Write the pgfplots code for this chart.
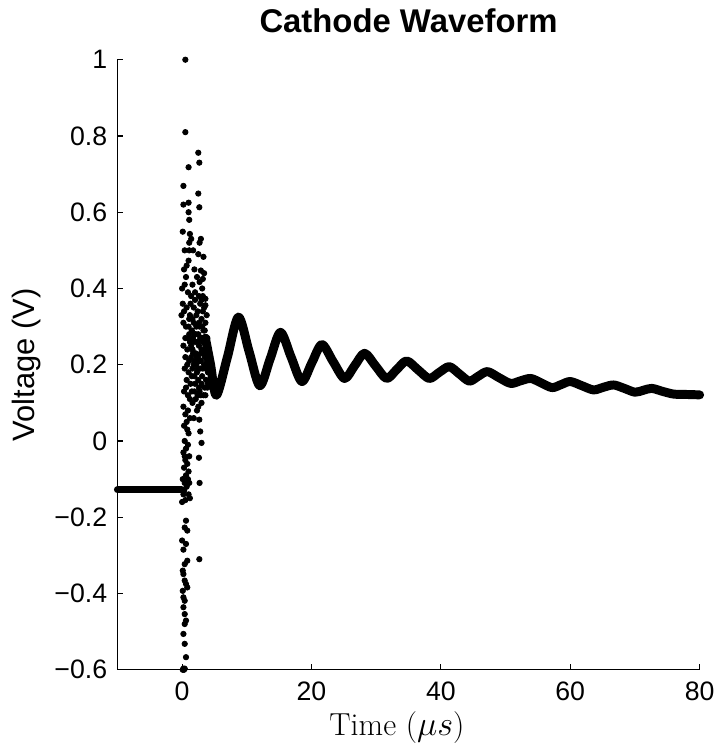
\documentclass[border=0pt]{standalone}
\usepackage{fontspec}
\setsansfont{Liberation Sans}
\usepackage{pgfplots}
\pgfplotsset{compat=1.18}

\begin{document}
\begin{tikzpicture}
\begin{axis}[
    scale only axis,
    width=292.5bp, height=306.5bp,
    xmin=-10, xmax=80,
    ymin=-0.6, ymax=1,
    axis x line*=bottom, axis y line*=left,
    axis line style={-, line width=0.6bp, black},
    tick align=inside,
    major tick length=3bp,
    tick style={line width=0.6bp, black},
    xtick={0,20,40,60,80},
    xticklabels={0,20,40,60,80},
    ytick={-0.6,-0.4,-0.2,0,0.2,0.4,0.6,0.8,1},
    yticklabels={−0.6,−0.4,−0.2,0,0.2,0.4,0.6,0.8,1},
    ticklabel style={font=\sffamily\fontsize{13.4bp}{15bp}\selectfont},
    x tick label style={anchor=north, inner sep=0pt, yshift=-6bp},
    y tick label style={anchor=east, inner sep=0pt, xshift=-5bp},
    title={Cathode Waveform},
    title style={font=\sffamily\bfseries\fontsize{16.5bp}{19bp}\selectfont,
        at={(axis description cs:0.5,1)}, anchor=center, yshift=13.5bp},
    xlabel={Time ($\mu s$)},
    xlabel style={font=\fontsize{16bp}{19bp}\selectfont,
        at={(axis description cs:0.48,-0.0946)}, anchor=center},
    ylabel={Voltage (V)},
    ylabel style={font=\sffamily\fontsize{15.5bp}{18bp}\selectfont,
        at={(axis description cs:-0.1556,0.5)}, anchor=center},
    clip=false,
]
% flat level before the trigger
\addplot[black, line width=3.5bp, line cap=round] coordinates {
    (-10,-0.128) (-0.1,-0.128)
};
% ringing after the trigger
\addplot[black, line width=4.5bp, smooth, line cap=round, line join=round] coordinates {
    (3.6,0.27) (4.4,0.2) (5.3,0.12) (7.0,0.22) (8.7,0.325) (10.35,0.235)
    (12.0,0.145) (13.6,0.215) (15.2,0.285) (16.85,0.22) (18.5,0.156)
    (20.05,0.205) (21.6,0.253) (23.35,0.208) (25.1,0.164) (26.65,0.197)
    (28.2,0.23) (29.9,0.197) (31.6,0.164) (33.15,0.187) (34.7,0.21)
    (36.45,0.187) (38.2,0.164) (39.75,0.18) (41.3,0.195) (42.85,0.176)
    (44.4,0.157) (45.8,0.17) (47.2,0.182) (49.0,0.166) (50.8,0.151)
    (52.35,0.158) (53.9,0.164) (55.55,0.152) (57.2,0.14) (58.6,0.148)
    (60.0,0.156) (61.8,0.145) (63.6,0.134) (65.15,0.141) (66.7,0.147)
    (68.35,0.138) (70.0,0.128) (71.3,0.133) (72.6,0.138) (74.3,0.13)
    (76,0.123) (78,0.122) (80,0.121)
};
% scattered samples around the trigger
\addplot[only marks, mark=*, mark size=1.35bp, black] coordinates {
    (0.5,1.0) (0.5,0.81) (2.5,0.756) (2.66,0.73) (1.0,0.718) (0.2,0.669)
    (2.5,0.649) (0.2,0.62) (1.0,0.625) (1.0,0.60) (2.66,0.613) (1.1,0.58)
    (0.1,0.549) (1.2,0.543) (1.4,0.53) (1.1,0.52) (2.9,0.53) (2.7,0.52)
    (0.4,0.50) (1.1,0.50) (2.5,0.49) (3.3,0.483) (1.0,0.473) (0.7,0.46)
    (2.9,0.447) (3.2,0.425) (2.7,0.417) (0.0,0.40) (0.4,0.41) (0.9,0.39)
    (1.6,0.41) (1.4,0.38) (0.1,0.36) (3.2,0.38) (3.6,0.373) (3.6,0.356)
    (-0.1,0.33) (1.1,0.32) (0.2,0.31)
    (1.9,0.45) (2.3,0.43) (3.1,0.40) (3.4,0.44) (1.7,0.50) (2.0,0.39)
    (3.0,0.37) (0.6,0.43) (0.3,0.45)
    (0.3,0.34) (0.6,0.30) (0.9,0.27) (1.2,0.33) (1.5,0.29) (1.8,0.31)
    (2.1,0.28) (2.4,0.34) (2.7,0.30) (3.0,0.32) (3.3,0.29) (3.6,0.31)
    (3.9,0.27) (0.2,0.25) (0.5,0.22) (0.8,0.24) (1.1,0.21) (1.4,0.25)
    (1.7,0.23) (2.0,0.26) (2.3,0.22) (2.6,0.25) (2.9,0.23) (3.2,0.26)
    (3.5,0.22) (3.8,0.24) (4.1,0.22) (0.4,0.19) (0.7,0.16) (1.0,0.18)
    (1.3,0.15) (1.6,0.19) (1.9,0.17) (2.2,0.20) (2.5,0.16) (2.8,0.19)
    (3.1,0.17) (3.4,0.20) (3.7,0.16) (4.0,0.18) (0.3,0.13) (0.9,0.12)
    (1.5,0.13) (2.1,0.11) (2.7,0.13) (3.3,0.12) (3.9,0.14)
    (1.3,0.36) (2.0,0.37) (2.8,0.36) (3.4,0.35) (1.7,0.27) (2.2,0.30)
    (2.5,0.28) (3.0,0.27) (1.9,0.21) (2.4,0.19) (2.9,0.21) (3.3,0.23)
    (1.4,0.22) (1.1,0.28) (3.6,0.27) (1.6,0.10) (2.3,0.08) (1.8,0.06)
    (2.5,0.09) (1.2,0.11) (3.0,0.10) (3.6,0.12) (4.2,0.16) (4.4,0.2)
    (1.6,0.32) (2.2,0.33) (2.6,0.31) (3.1,0.30) (3.5,0.29) (1.9,0.28)
    (2.4,0.26) (2.8,0.27) (3.3,0.26) (3.7,0.25) (1.6,0.24) (2.1,0.23)
    (2.5,0.22) (3.0,0.24) (3.4,0.23) (3.8,0.21) (1.8,0.20) (2.3,0.18)
    (2.7,0.21) (3.2,0.19) (3.6,0.19) (1.5,0.17) (2.0,0.15) (2.6,0.14)
    (3.0,0.15) (3.5,0.14) (4.0,0.15) (1.9,0.13) (2.4,0.12) (2.9,0.12)
    (3.2,0.34) (2.6,0.38) (1.8,0.35) (3.8,0.33) (0.7,0.35) (0.5,0.27)
    (0.8,0.20) (0.6,0.14) (1.2,0.26) (1.0,0.30)
    (2.66,0.056) (2.8,0.025) (3.0,-0.005) (2.6,-0.044) (2.7,-0.11) (2.66,-0.31)
    (0.2,0.09) (0.9,0.08) (0.5,0.07) (1.2,0.06) (0.3,0.04) (0.8,0.03)
    (1.0,0.02) (0.4,0.0) (0.9,-0.01) (0.6,-0.02) (0.2,-0.03) (1.1,-0.04)
    (0.5,-0.05) (0.8,-0.06) (0.3,-0.07) (1.0,-0.08) (0.6,-0.09) (0.1,-0.1)
    (0.9,-0.1) (0.4,-0.11) (0.7,-0.12) (0.2,-0.14) (1.0,-0.14) (0.0,-0.16)
    (0.5,-0.155) (1.2,-0.15) (0.7,0.05) (0.4,-0.04) (1.1,-0.11) (0.3,-0.13)
    (0.6,-0.209) (0.4,-0.227) (0.8,-0.235) (0.0,-0.261) (0.6,-0.27) (0.2,-0.285)
    (0.8,-0.314) (0.4,-0.323) (0.1,-0.34) (0.2,-0.349) (0.4,-0.366) (0.6,-0.375)
    (0.8,-0.384) (0.1,-0.393) (0.2,-0.41) (0.4,-0.419) (0.2,-0.436) (0.4,-0.454)
    (0.6,-0.471) (0.4,-0.48) (0.2,-0.506) (0.4,-0.532) (0.6,-0.567) (0.2,-0.597)
    (0.4,-0.597) (0.1,-0.6) (0.3,-0.6)
};
\end{axis}
% page frame matching the reference proportions
\path (current axis.south west) ++(-59bp,-38.5bp) coordinate (bl);
\path (bl) rectangle ++(360.5bp,375bp);
\end{tikzpicture}
\end{document}
